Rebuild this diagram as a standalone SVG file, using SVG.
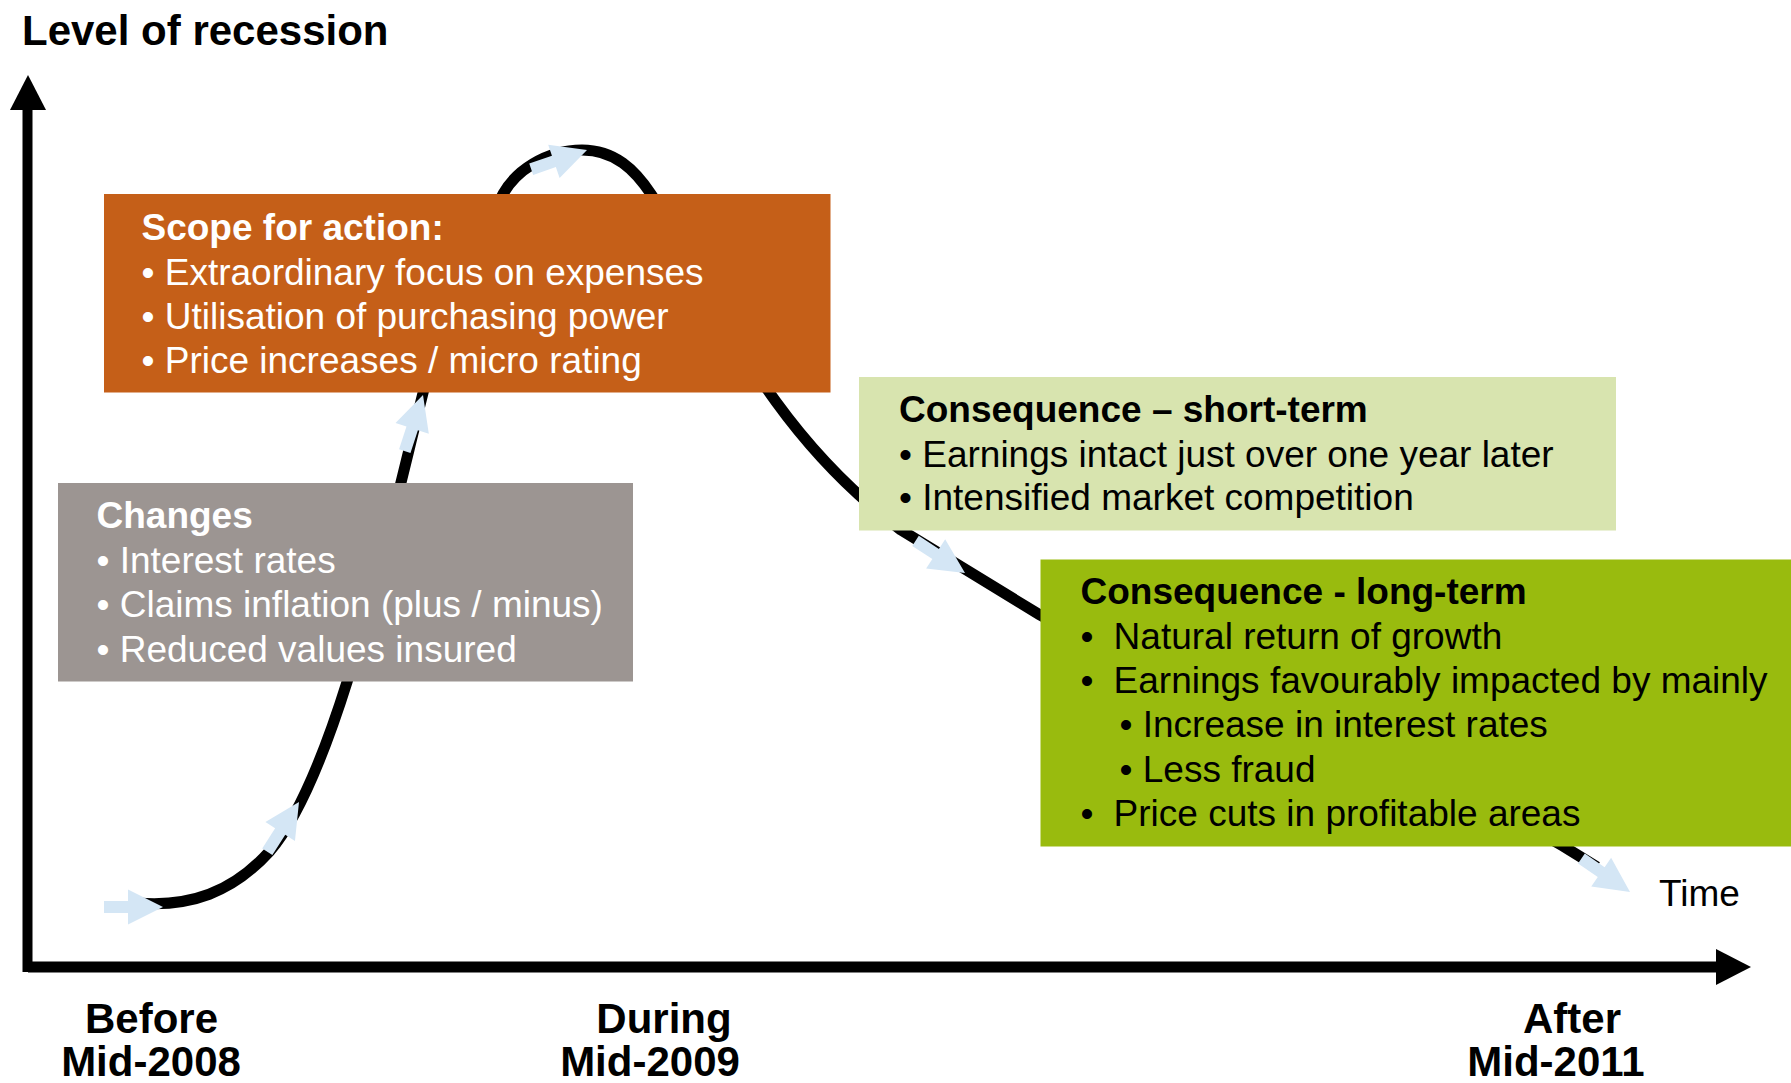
<svg xmlns="http://www.w3.org/2000/svg" width="1791" height="1083" viewBox="0 0 1791 1083">
<defs>
<style>
text{font-family:"Liberation Sans",Arial,Helvetica,sans-serif;}
.t{font-size:37px;}
.b{font-size:37px;font-weight:bold;}
.ax{font-size:42px;font-weight:bold;fill:#000;text-anchor:middle;}
.w{fill:#fff;}
.k{fill:#000;}
.curve{fill:none;stroke:#000;stroke-width:11;}
.flow{fill:#D4E6F5;}
</style>
<polygon id="blk" points="0,0 -35,-17.5 -35,-6 -59,-6 -59,6 -35,6 -35,17.5"/>
</defs>
<rect width="1791" height="1083" fill="#fff"/>

<g id="axes">
<text x="22" y="45" style="font-size:42px;font-weight:bold" class="k">Level of recession</text>
<rect x="22.5" y="106" width="10" height="866" fill="#000"/>
<polygon points="28,75 46,110 10,110" fill="#000"/>
<rect x="28" y="961.5" width="1690" height="11" fill="#000"/>
<polygon points="1751,967 1716,949 1716,985" fill="#000"/>
<text x="1659" y="906" class="t k">Time</text>
<text x="151.5" y="1033" class="ax">Before</text>
<text x="151" y="1076" class="ax">Mid-2008</text>
<text x="664" y="1033" class="ax">During</text>
<text x="650" y="1076" class="ax">Mid-2009</text>
<text x="1572" y="1033" class="ax">After</text>
<text x="1556" y="1076" class="ax">Mid-2011</text>
</g>

<g id="connectors">
<path class="curve" d="M138,903 C190,907 232,893 270,851 C335,775 385,545 423,393 C440,320 480,240 503,194 C515,172 545,150 582,150 C615,150 635,170 651,194 C710,280 755,420 901,530 L1040,615 C1200,705 1450,780 1563,846 L1597,867"/>
<use href="#blk" class="flow" transform="translate(163,907)"/>
<use href="#blk" class="flow" transform="translate(299,802) rotate(-57.5)"/>
<use href="#blk" class="flow" transform="translate(423,395) rotate(-72)"/>
<use href="#blk" class="flow" transform="translate(587,150) rotate(-19)"/>
<use href="#blk" class="flow" transform="translate(965,573) rotate(33)"/>
<use href="#blk" class="flow" transform="translate(1630,892) rotate(34.6)"/>
</g>

<g id="node-scope">
<rect x="104" y="194" width="726.5" height="198.5" fill="#C55F18"/>
<text x="141.5" y="239.5" class="b w">Scope for action:</text>
<text x="141.5" y="285" class="t w">• Extraordinary focus on expenses</text>
<text x="141.5" y="329" class="t w">• Utilisation of purchasing power</text>
<text x="141.5" y="373" class="t w">• Price increases / micro rating</text>
</g>

<g id="node-changes">
<rect x="58" y="483" width="575" height="198.5" fill="#9C9592"/>
<text x="96.5" y="528" class="b w">Changes</text>
<text x="96.5" y="572.5" class="t w">• Interest rates</text>
<text x="96.5" y="617" class="t w">• Claims inflation (plus / minus)</text>
<text x="96.5" y="661.5" class="t w">• Reduced values insured</text>
</g>

<g id="node-short">
<rect x="859" y="377" width="757" height="153.5" fill="#D8E4AF"/>
<text x="899" y="422" class="b k">Consequence – short-term</text>
<text x="899" y="466.5" class="t k">• Earnings intact just over one year later</text>
<text x="899" y="510" class="t k">• Intensified market competition</text>
</g>

<g id="node-long">
<rect x="1040.5" y="559.5" width="751" height="287" fill="#99BB0E"/>
<text x="1080.5" y="604" class="b k">Consequence - long-term</text>
<text x="1080.5" y="648.5" class="t k">•</text>
<text x="1113.6" y="648.5" class="t k">Natural return of growth</text>
<text x="1080.5" y="692.5" class="t k">•</text>
<text x="1113.6" y="692.5" class="t k">Earnings favourably impacted by mainly</text>
<text x="1119.5" y="737" class="t k">• Increase in interest rates</text>
<text x="1119.5" y="781.5" class="t k">• Less fraud</text>
<text x="1080.5" y="826" class="t k">•</text>
<text x="1113.6" y="826" class="t k">Price cuts in profitable areas</text>
</g>
</svg>
